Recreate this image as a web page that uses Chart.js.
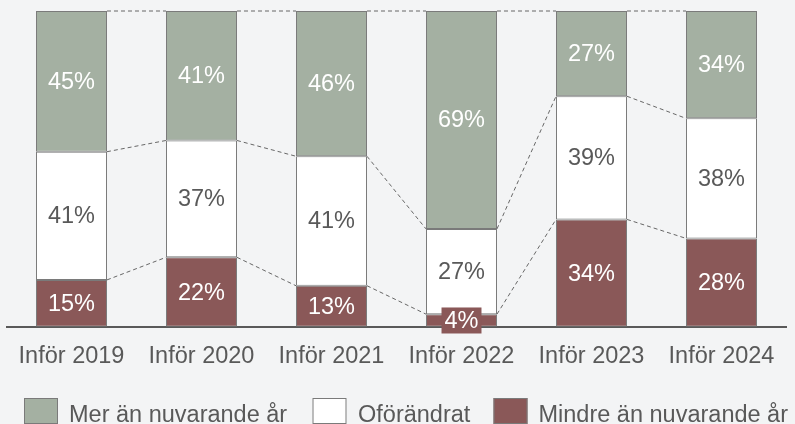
<!DOCTYPE html>
<html><head><meta charset="utf-8">
<script src="https://cdn.jsdelivr.net/npm/chart.js@4.4.0/dist/chart.umd.min.js"></script>
<style>html,body{margin:0;padding:0;background:#f3f4f5;}#wrap{width:795px;height:424px;position:relative;}</style>
</head><body><div id="wrap"><canvas id="c" width="795" height="424"></canvas></div>
<script>
const categories = ['Inför 2019', 'Inför 2020', 'Inför 2021', 'Inför 2022', 'Inför 2023', 'Inför 2024'];
const merValues = [45, 41, 46, 69, 27, 34];
const oforandratValues = [41, 37, 41, 27, 39, 38];
const mindreValues = [15, 22, 13, 4, 34, 28];
const seriesNames = ['Mer än nuvarande år', 'Oförändrat', 'Mindre än nuvarande år'];

const GREEN = '#a4b0a2', WHITE = '#ffffff', RED = '#8a5858', EDGE = '#7a7a7a', TEXT = '#595959';
const FONT = '"Liberation Sans", Arial, sans-serif';

const totals = categories.map((_, i) => merValues[i] + oforandratValues[i] + mindreValues[i]);
const share = arr => arr.map((v, i) => v / totals[i] * 100);

const datasets = [
  { label: seriesNames[2], raw: mindreValues, data: share(mindreValues), backgroundColor: RED, labelColor: '#ffffff' },
  { label: seriesNames[1], raw: oforandratValues, data: share(oforandratValues), backgroundColor: WHITE, labelColor: TEXT },
  { label: seriesNames[0], raw: merValues, data: share(merValues), backgroundColor: GREEN, labelColor: '#ffffff' }
].map(d => Object.assign(d, { borderColor: EDGE, borderWidth: 1, borderSkipped: false, barPercentage: 0.546, categoryPercentage: 1 }));

const connectors = {
  id: 'connectors',
  afterDatasetsDraw(chart) {
    const ctx = chart.ctx;
    ctx.save();
    ctx.strokeStyle = '#666';
    ctx.lineWidth = 1;
    ctx.setLineDash([4, 3]);
    chart.data.datasets.forEach((ds, di) => {
      const els = chart.getDatasetMeta(di).data;
      for (let i = 0; i < els.length - 1; i++) {
        const a = els[i], b = els[i + 1];
        ctx.beginPath();
        ctx.moveTo(a.x + a.width / 2, a.y);
        ctx.lineTo(b.x - b.width / 2, b.y);
        ctx.stroke();
      }
    });
    ctx.restore();
  }
};

const labels = {
  id: 'valueLabels',
  afterDatasetsDraw(chart) {
    const ctx = chart.ctx;
    ctx.save();
    ctx.font = '23.5px ' + FONT;
    ctx.textAlign = 'center';
    ctx.textBaseline = 'middle';
    chart.data.datasets.forEach((ds, di) => {
      chart.getDatasetMeta(di).data.forEach((el, i) => {
        const txt = ds.raw[i] + '%';
        const cy = (el.y + el.base) / 2;
        const h = el.base - el.y;
        if (h < 26) {
          const w = ctx.measureText(txt).width + 6;
          ctx.fillStyle = ds.backgroundColor;
          ctx.fillRect(el.x - w / 2, cy - 13, w, 26);
        }
        ctx.fillStyle = ds.labelColor;
        ctx.fillText(txt, el.x, cy + 1);
      });
    });
    ctx.restore();
  }
};

const legend = {
  id: 'customLegend',
  afterDraw(chart) {
    const ctx = chart.ctx;
    const items = [
      { name: seriesNames[0], color: GREEN, bx: 24, tx: 69 },
      { name: seriesNames[1], color: WHITE, bx: 312.5, tx: 358 },
      { name: seriesNames[2], color: RED, bx: 493.5, tx: 538.5 }
    ];
    ctx.save();
    ctx.font = '23.5px ' + FONT;
    ctx.textAlign = 'left';
    ctx.textBaseline = 'alphabetic';
    items.forEach(it => {
      ctx.fillStyle = it.color;
      ctx.fillRect(it.bx, 398, 34, 26);
      ctx.strokeStyle = EDGE;
      ctx.lineWidth = 1;
      ctx.strokeRect(it.bx + 0.5, 398.5, 33, 25);
      ctx.fillStyle = TEXT;
      ctx.fillText(it.name, it.tx, 422);
    });
    ctx.restore();
  }
};

new Chart(document.getElementById('c'), {
  type: 'bar',
  data: { labels: categories, datasets },
  options: {
    responsive: false,
    animation: false,
    devicePixelRatio: 1,
    layout: { padding: { left: 6.5, right: 8.5, top: 11, bottom: 37 } },
    plugins: { legend: { display: false }, tooltip: { enabled: false } },
    scales: {
      x: {
        stacked: true,
        grid: { display: false, drawTicks: false },
        border: { display: true, color: '#595959', width: 2 },
        ticks: { color: TEXT, font: { family: FONT, size: 23.5 }, padding: 16 }
      },
      y: { stacked: true, display: false, min: 0, max: 100 }
    }
  },
  plugins: [connectors, labels, legend]
});
</script></body></html>
